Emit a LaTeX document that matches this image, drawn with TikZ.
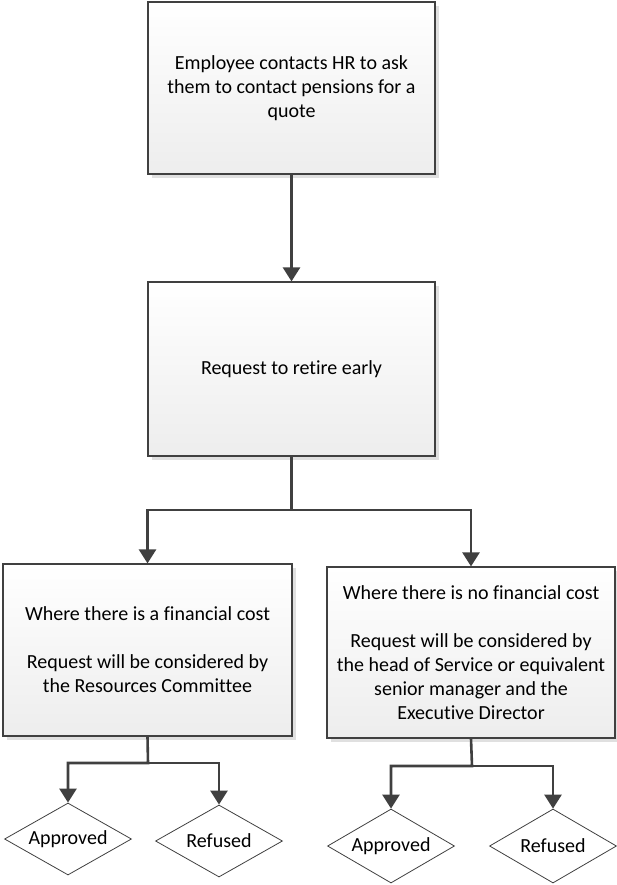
\documentclass[tikz,border=0pt]{standalone}
\usepackage{fontspec}
\setmainfont{Carlito}[Ligatures=NoCommon]
\usepackage{tikz}
\usetikzlibrary{arrows.meta,shapes.geometric,shadows}
\definecolor{linegray}{HTML}{404040}

\begin{document}
\begin{tikzpicture}[x=1pt, y=-1pt,
		box/.style={draw=linegray, line width=1.2pt, top color=white, bottom color=black!7,
			general shadow={fill=black!12, shadow xshift=4pt, shadow yshift=-4pt},
			align=center, inner sep=0pt, font=\fontsize{20}{24}\selectfont},
		decision/.style={diamond, draw=linegray, line width=0.8pt, fill=white, aspect=1.8,
			inner sep=0pt, minimum width=127pt, font=\fontsize{20}{24}\selectfont},
		flow/.style={draw=linegray, line width=2.6pt, -{Triangle[width=17pt,length=14pt]}}]
	\useasboundingbox (0,0) rectangle (617,885);

	% boxes
	\node[box, minimum width=287pt, minimum height=172pt] (quote) at (291.5,88)
		{Employee contacts HR to ask\\them to contact pensions for a\\quote};
	\node[box, minimum width=287pt, minimum height=174pt] (retire) at (291.5,369)
		{Request to retire early};
	\node[box, minimum width=289pt, minimum height=172pt] (cost) at (147.5,650)
		{Where there is a financial cost\\[24pt]Request will be considered by\\the Resources Committee};
	\node[box, minimum width=288pt, minimum height=171pt] (nocost) at (471,652.5)
		{Where there is no financial cost\\[24pt]Request will be considered by\\the head of Service or equivalent\\senior manager and the\\Executive Director};

	% outcomes
	\node[decision, minimum height=72pt] (costyes) at (68,839) {Approved};
	\node[decision, minimum height=72pt] (costno) at (219,841) {Refused};
	\node[decision, minimum height=74pt] (nocostyes) at (391,846) {Approved};
	\node[decision, minimum height=74pt] (nocostno) at (553,846) {Refused};

	% split points
	\coordinate (split) at (291.5,510);
	\coordinate (costsplit) at (148,763);
	\coordinate (nocostsplit) at (472,766);

	% arrows
	\draw[flow] (quote.south) -- (retire.north);
	\draw[flow] (retire.south) -- (split) -| (cost.north);
	\draw[flow] (split) -| (nocost.north);
	\draw[flow] (cost.south) -- (costsplit) -| (costyes.north);
	\draw[flow] (costsplit) -| (costno.north);
	\draw[flow] (nocost.south) -- (nocostsplit) -| (nocostyes.north);
	\draw[flow] (nocostsplit) -| (nocostno.north);
\end{tikzpicture}
\end{document}
